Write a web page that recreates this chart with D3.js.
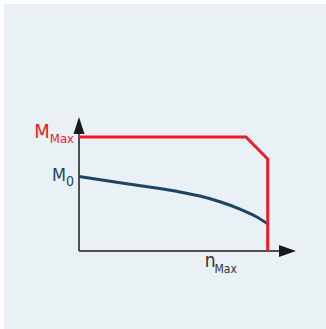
<!DOCTYPE html>
<html>
<head>
<meta charset="utf-8">
<script src="https://cdn.jsdelivr.net/npm/d3@7"></script>
<style>
  html, body { margin: 0; padding: 0; background: #fff; }
  svg { display: block; }
  text { font-family: "Liberation Sans Narrow", "DejaVu Sans Condensed", "Roboto Condensed", "Liberation Sans", sans-serif; }
</style>
</head>
<body>
<div id="chart"></div>
<script>
// speed in % of nMax, torque in % of MMax
var speedMax = 115, torqueTop = 117.5;
var maxTorque = [[0, 100], [88.5, 100], [100, 80.7], [100, 0]];
var torqueCurve = [[0, 65.4], [24.4, 59.2], [50.9, 52.6], [64.1, 48.2], [74.7, 43.2],
                   [85.3, 36.8], [93.3, 30.7], [100, 23.8]];
var yLabels = [{v: 100, main: "M", sub: "Max", color: "#ed1c24"},
               {v: 65.4, main: "M", sub: "0", color: "#1b4565"}];
var xLabels = [{v: 100, main: "n", sub: "Max"}];

var W = 326, H = 329;
var svg = d3.select("#chart").append("svg").attr("width", W).attr("height", H);

svg.append("rect").attr("x", 4).attr("y", 4).attr("width", W - 4).attr("height", H - 4)
   .attr("fill", "#e9f1f5");

var x = d3.scaleLinear().domain([0, speedMax]).range([79, 296]);
var y = d3.scaleLinear().domain([0, 100]).range([251, 137]);

var g = svg.append("g");

// axes
g.append("line").attr("x1", x(0)).attr("x2", x(speedMax) - 10)
  .attr("y1", y(0)).attr("y2", y(0)).attr("stroke", "#1a1a1a").attr("stroke-width", 1.5);
g.append("line").attr("x1", x(0)).attr("x2", x(0))
  .attr("y1", y(0)).attr("y2", y(torqueTop) + 10).attr("stroke", "#1a1a1a").attr("stroke-width", 1.5);
g.append("path")
  .attr("d", "M" + x(speedMax) + "," + y(0) + "L" + (x(speedMax) - 17) + "," + (y(0) - 6) +
             "L" + (x(speedMax) - 17) + "," + (y(0) + 6) + "Z")
  .attr("fill", "#1a1a1a");
g.append("path")
  .attr("d", "M" + x(0) + "," + y(torqueTop) + "L" + (x(0) - 5.5) + "," + (y(torqueTop) + 17) +
             "L" + (x(0) + 5.5) + "," + (y(torqueTop) + 17) + "Z")
  .attr("fill", "#1a1a1a");

var line = d3.line().x(function(d){ return x(d[0]); }).y(function(d){ return y(d[1]); });

g.append("path").datum(torqueCurve)
  .attr("d", line.curve(d3.curveMonotoneX))
  .attr("fill", "none").attr("stroke", "#1b4565").attr("stroke-width", 3);

g.append("path").datum(maxTorque)
  .attr("d", line.curve(d3.curveLinear))
  .attr("fill", "none").attr("stroke", "#ed1c24").attr("stroke-width", 3)
  .attr("stroke-linejoin", "miter");

// labels
yLabels.forEach(function(l, i){
  var t = g.append("text").attr("x", x(0) - 5).attr("y", y(l.v) + (i === 0 ? 1 : 5))
    .attr("text-anchor", "end").attr("fill", l.color);
  t.append("tspan").attr("font-size", i === 0 ? 20 : 18).text(l.main);
  t.append("tspan").attr("font-size", i === 0 ? 13 : 14).attr("dy", 5).text(l.sub);
});
xLabels.forEach(function(l){
  var t = g.append("text").attr("x", x(l.v) - 63).attr("y", y(0) + 16)
    .attr("fill", "#333");
  t.append("tspan").attr("font-size", 19).text(l.main);
  t.append("tspan").attr("font-size", 12).attr("dy", 6).attr("dx", -1).text(l.sub);
});
</script>
</body>
</html>
